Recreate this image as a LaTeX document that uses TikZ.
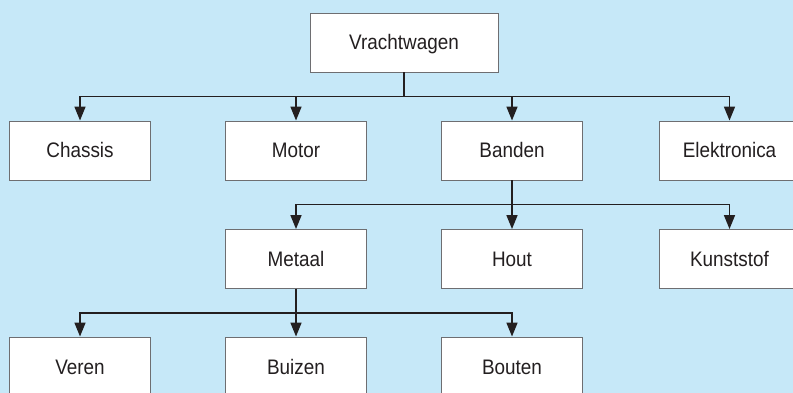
\documentclass[tikz,border=0pt]{standalone}
\usepackage{fontspec}
\setmainfont{Liberation Sans}[FakeStretch=0.9]
\usetikzlibrary{arrows.meta}
\definecolor{skyblue}{RGB}{198,232,248}
\definecolor{inkdark}{RGB}{35,31,32}
\definecolor{boxline}{RGB}{110,110,113}
\tikzset{
  part/.style={draw=boxline,line width=0.9pt,fill=white,text=inkdark,
    minimum width=141pt,minimum height=59pt,inner sep=0pt,
    text height=15pt,text depth=0pt,
    font=\fontsize{21}{24}\selectfont},
  link/.style={draw=inkdark,line width=1.6pt,
    -{Triangle[length=14pt,width=11pt]}}
}
\begin{document}
\begin{tikzpicture}[x=1pt,y=-1pt]
    \useasboundingbox[fill=skyblue] (0,0) rectangle (793,393);
    \clip (0,0) rectangle (793,393);
    % top
    \node[part,minimum width=188pt] (truck) at (404,42.5) {Vrachtwagen};
    % second row
    \node[part] (chassis) at (80,150.5) {Chassis};
    \node[part] (motor) at (296,150.5) {Motor};
    \node[part] (banden) at (512,150.5) {Banden};
    \node[part] (elektronica) at (729.5,150.5) {Elektronica};
    % third row
    \node[part] (metaal) at (296,259) {Metaal};
    \node[part] (hout) at (512,259) {Hout};
    \node[part] (kunststof) at (729.5,259) {Kunststof};
    % bottom row
    \node[part] (veren) at (80,366.5) {Veren};
    \node[part] (buizen) at (296,366.5) {Buizen};
    \node[part] (bouten) at (512,366.5) {Bouten};
    \foreach \c in {chassis,motor,banden,elektronica}
    \draw[link] (truck.south) -- ++(0,24) -| (\c.north);
    \foreach \c in {metaal,hout,kunststof}
    \draw[link] (banden.south) -- ++(0,24) -| (\c.north);
    \foreach \c in {veren,buizen,bouten}
    \draw[link] (metaal.south) -- ++(0,24) -| (\c.north);
  \end{tikzpicture}
\end{document}
